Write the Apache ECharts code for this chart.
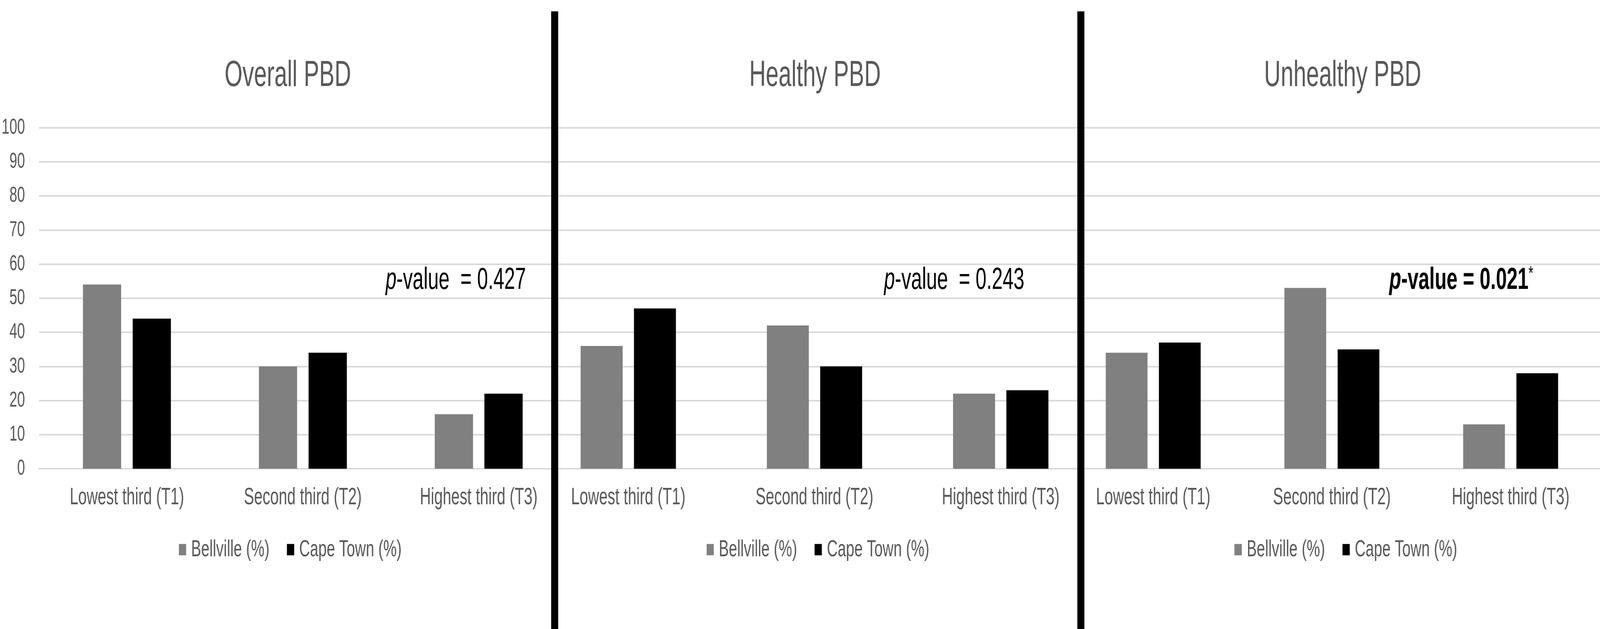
<!DOCTYPE html>
<html>
<head>
<meta charset="utf-8">
<script src="https://cdn.jsdelivr.net/npm/echarts@6/dist/echarts.min.js"></script>
<style>
html,body{margin:0;padding:0;background:#fff;overflow:hidden;width:100%;height:100%;}
#chart{width:6404px;height:1609px;transform-origin:0 0;}
</style>
</head>
<body>
<div id="chart"></div>
<script>
// ---- data ----
const categories = ['Lowest third (T1)', 'Second third (T2)', 'Highest third (T3)'];
const seriesNames = ['Bellville (%)', 'Cape Town (%)'];
const panelTitles = ['Overall PBD', 'Healthy PBD', 'Unhealthy PBD'];
const overallBellville = [54, 30, 16];
const overallCapeTown = [44, 34, 22];
const healthyBellville = [36, 42, 22];
const healthyCapeTown = [47, 30, 23];
const unhealthyBellville = [34, 53, 13];
const unhealthyCapeTown = [37, 35, 28];
const pValues = ['0.427', '0.243', '0.021'];
const pSignificant = [false, false, true];
const yMin = 0, yMax = 100, yInterval = 10;

// ---- layout / style (designed at 6404 x 1609; the page fits it into the real window) ----
const DW = 6404, DH = 1609;
const el = document.getElementById('chart');
const fitX = window.innerWidth / DW, fitY = window.innerHeight / DH;
el.style.transform = 'scale(' + fitX + ',' + fitY + ')';

const FONT = "'Liberation Sans', Arial, sans-serif";
const GREY_TXT = '#595959';
const GRID_COL = '#d9d9d9';
const panels = [
  {left: 156, width: 2112, barW: 153, gap: '30%', center: 1152, legendLeft: 716, pRight: 2105, data: [overallBellville, overallCapeTown]},
  {left: 2142, width: 2236, barW: 168, gap: '27%', center: 3262, legendLeft: 2828, pRight: 4100, data: [healthyBellville, healthyCapeTown]},
  {left: 4258, width: 2230, barW: 167, gap: '27.5%', center: 5374, legendLeft: 4941, pRight: 6137, data: [unhealthyBellville, unhealthyCapeTown]}
];
const gridTop = 326.5, gridHeight = 872.5;
const colors = ['#808080', '#000000'];

const grid = [], xAxis = [], yAxis = [], series = [], legend = [], graphic = [];
panels.forEach((p, i) => {
  grid.push({left: p.left, top: gridTop, width: p.width, height: gridHeight, containLabel: false});
  xAxis.push({
    type: 'category', gridIndex: i, data: categories,
    axisLine: {show: true, lineStyle: {color: GRID_COL, width: 4}},
    axisTick: {show: false},
    axisLabel: {color: GREY_TXT, fontSize: 61, fontFamily: FONT, margin: 44, interval: 0}
  });
  yAxis.push({
    type: 'value', gridIndex: i, min: yMin, max: yMax, interval: yInterval,
    axisLine: {show: false}, axisTick: {show: false},
    axisLabel: {show: i === 0, color: GREY_TXT, fontSize: 56, fontFamily: FONT, margin: 56},
    splitLine: {show: true, lineStyle: {color: GRID_COL, width: 4}}
  });
  p.data.forEach((arr, k) => {
    series.push({
      type: 'bar', name: seriesNames[k], xAxisIndex: i, yAxisIndex: i,
      data: arr, barWidth: p.barW, barGap: p.gap,
      itemStyle: {color: colors[k]}, emphasis: {disabled: true}, silent: true
    });
  });
  legend.push({
    data: seriesNames, left: p.legendLeft, top: 1376, orient: 'horizontal',
    icon: 'rect', itemWidth: 29, itemHeight: 29, itemGap: 70, padding: 0,
    selectedMode: false,
    textStyle: {color: GREY_TXT, fontSize: 60, fontFamily: FONT, padding: [0, 0, 0, 15]}
  });
  graphic.push({
    type: 'text', x: p.center, y: 195, silent: true,
    style: {text: panelTitles[i], fill: GREY_TXT, font: '92px ' + FONT, textAlign: 'center', textVerticalAlign: 'middle'}
  });
  const bold = pSignificant[i] ? 'bold ' : '';
  const txt = pSignificant[i]
    ? '{i|p}{n|-value = ' + pValues[i] + '}{s|*}'
    : '{i|p}{n|-value  = ' + pValues[i] + '}';
  graphic.push({
    type: 'text', x: p.pRight, y: 717, silent: true,
    style: {
      text: txt, textAlign: 'right', textVerticalAlign: 'middle', fill: '#000',
      font: bold + '78px ' + FONT,
      rich: {
        i: {fontStyle: 'italic', fontWeight: pSignificant[i] ? 'bold' : 'normal', fontSize: 78, fontFamily: FONT, fill: '#000'},
        n: {fontWeight: pSignificant[i] ? 'bold' : 'normal', fontSize: 78, fontFamily: FONT, fill: '#000'},
        s: {fontWeight: 'normal', fontSize: 50, fontFamily: FONT, fill: '#000', verticalAlign: 'top', padding: [0, 0, 30, 0]}
      }
    }
  });
});
// panel separators
[2220, 4326].forEach(x => {
  graphic.push({type: 'rect', silent: true, z: 100, shape: {x: x - 14, y: 29, width: 28, height: DH - 29}, style: {fill: '#000'}});
});

const chart = echarts.init(el, null, {renderer: 'canvas', width: DW, height: DH});
chart.setOption({
  backgroundColor: '#ffffff',
  animation: false,
  grid, xAxis, yAxis, series, legend, graphic
});
</script>
</body>
</html>
